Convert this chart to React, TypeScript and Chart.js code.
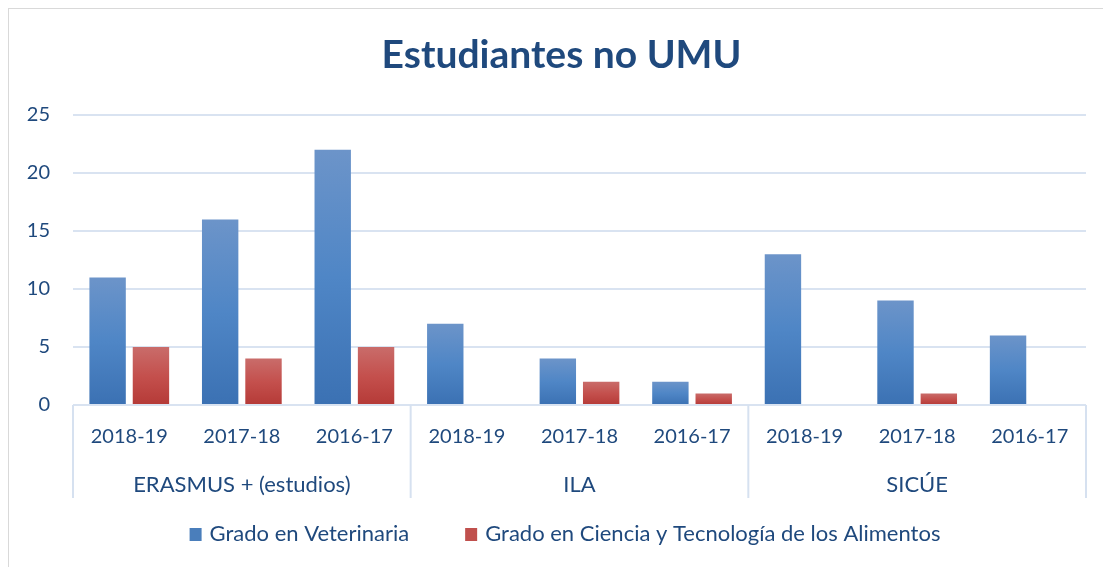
import React, { useEffect, useRef } from "react";
import { Chart, registerables } from "chart.js";

Chart.register(...registerables);

const titleText = "Estudiantes no UMU";
const groups = ["ERASMUS + (estudios)", "ILA", "SICÚE"];
const years = ["2018-19", "2017-18", "2016-17"];
const categories = [
  "2018-19", "2017-18", "2016-17",
  "2018-19", "2017-18", "2016-17",
  "2018-19", "2017-18", "2016-17",
];
const veterinaria = [11, 16, 22, 7, 4, 2, 13, 9, 6];
const alimentos = [5, 4, 5, 0, 2, 1, 0, 1, 0];
const seriesNames = [
  "Grado en Veterinaria",
  "Grado en Ciencia y Tecnología de los Alimentos",
];
const seriesColors = ["#4A7EBB", "#C0504D"];
const yTicks = [0, 5, 10, 15, 20, 25];

const TEXT = "#1F497D";
const FONT = "Lato, 'Open Sans', sans-serif";

function gradientFill(stops: string[], solid: string) {
  return (ctx: any) => {
    const chart = ctx.chart;
    const { chartArea, scales } = chart;
    if (!chartArea || !scales.y || ctx.raw === undefined) return solid;
    const top = scales.y.getPixelForValue(ctx.raw);
    const bottom = scales.y.getPixelForValue(0);
    if (!isFinite(top) || Math.abs(bottom - top) < 1) return solid;
    const g = chart.ctx.createLinearGradient(0, top, 0, bottom);
    g.addColorStop(0, stops[0]);
    g.addColorStop(0.5, stops[1]);
    g.addColorStop(1, stops[2]);
    return g;
  };
}

const groupPlugin = {
  id: "groupLabels",
  afterDraw(chart: any) {
    const x = chart.scales.x;
    const area = chart.chartArea;
    const c = chart.ctx;
    const catW = x.getPixelForValue(1) - x.getPixelForValue(0);
    c.save();

    // title
    c.fillStyle = TEXT;
    c.font = `bold 39px ${FONT}`;
    c.textAlign = "center";
    c.textBaseline = "middle";
    c.fillText(titleText, chart.width / 2 + 1.5, 46.5);

    // group separators
    c.strokeStyle = "#D6E1F0";
    c.lineWidth = 2;
    for (let i = 0; i <= groups.length; i++) {
      const px = x.getPixelForValue(i * years.length) - catW / 2;
      c.beginPath();
      c.moveTo(px, area.bottom);
      c.lineTo(px, area.bottom + 93);
      c.stroke();
    }

    // group labels
    c.fillStyle = TEXT;
    c.font = `22px ${FONT}`;
    groups.forEach((g, i) => {
      const px = x.getPixelForValue(i * years.length + 1);
      c.fillText(g, px, area.bottom + 80);
    });

    // legend
    const box = 12;
    const gapText = 8;
    const gapItem = 56;
    const widths = seriesNames.map((s) => c.measureText(s).width);
    const total = widths.reduce((a, w) => a + box + gapText + w, 0) + gapItem;
    let lx = chart.width / 2 + 5 - total / 2;
    const ly = area.bottom + 129;
    c.textAlign = "left";
    seriesNames.forEach((s, i) => {
      c.fillStyle = seriesColors[i];
      c.fillRect(lx, ly - box / 2, box, box + 1);
      c.fillStyle = TEXT;
      c.fillText(s, lx + box + gapText, ly);
      lx += box + gapText + widths[i] + gapItem;
    });
    c.restore();
  },
};

export default function App() {
  const ref = useRef<HTMLCanvasElement>(null);
  useEffect(() => {
    if (!ref.current) return;
    const chart = new Chart(ref.current, {
      type: "bar",
      data: {
        labels: categories,
        datasets: [
          {
            label: seriesNames[0],
            data: veterinaria,
            backgroundColor: gradientFill(["#6C94C9", "#4F86C6", "#3B71B3"], seriesColors[0]),
            barPercentage: 0.84,
            categoryPercentage: 0.77,
          },
          {
            label: seriesNames[1],
            data: alimentos,
            backgroundColor: gradientFill(["#C96C6A", "#C4504D", "#B53A37"], seriesColors[1]),
            barPercentage: 0.84,
            categoryPercentage: 0.77,
          },
        ],
      },
      options: {
        animation: false,
        responsive: true,
        maintainAspectRatio: false,
        layout: { padding: { top: 106, right: 25, bottom: 0, left: 0 } },
        plugins: {
          title: { display: false },
          legend: { display: false },
          tooltip: { enabled: false },
        },
        scales: {
          x: {
            grid: { display: false, drawTicks: false },
            border: { display: false },
            ticks: {
              color: TEXT,
              font: { family: FONT, size: 20 },
              padding: 20,
              maxRotation: 0,
              autoSkip: false,
            },
            afterFit: (s: any) => {
              s.height = 162;
            },
          },
          y: {
            min: 0,
            max: 25,
            afterBuildTicks: (s: any) => {
              s.ticks = yTicks.map((v) => ({ value: v }));
            },
            grid: { color: "#D9E3F1", lineWidth: 2, drawTicks: false },
            border: { display: false },
            ticks: {
              color: TEXT,
              font: { family: FONT, size: 20 },
              padding: 23,
            },
            afterFit: (s: any) => {
              s.width = 64;
            },
          },
        },
      },
      plugins: [groupPlugin],
    });
    return () => chart.destroy();
  }, []);
  return (
    <div
      style={{
        width: 1103,
        height: 559,
        borderTop: "1px solid #D9D9D9",
        borderLeft: "1px solid #D9D9D9",
        boxSizing: "border-box",
        background: "#fff",
      }}
    >
      <canvas ref={ref} />
    </div>
  );
}
